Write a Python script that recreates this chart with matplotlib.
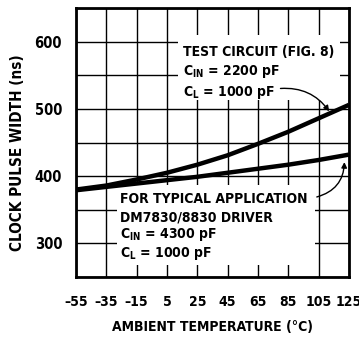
import numpy as np
import matplotlib.pyplot as plt
from matplotlib.patches import Rectangle

plt.rcParams['font.family'] = ['DejaVu Sans']
plt.rcParams['font.stretch'] = 'condensed'
plt.rcParams['font.weight'] = 'bold'
plt.rcParams['mathtext.fontset'] = 'custom'
plt.rcParams['mathtext.rm'] = 'DejaVu Sans:weight=bold:stretch=condensed'
plt.rcParams['mathtext.bf'] = 'DejaVu Sans:weight=bold:stretch=condensed'

# data
temp = [-55, -35, -15, 5, 25, 45, 65, 85, 105, 125]
test_circuit = [380, 386, 395, 405, 417, 431, 448, 466, 486, 506]
typical_app = [379, 384, 389, 394, 399, 405, 411, 417, 424, 432]

x_ticks = [-55, -35, -15, 5, 25, 45, 65, 85, 105, 125]
y_ticks = [300, 400, 500, 600]
y_grid = [250, 300, 350, 400, 450, 500, 550, 600, 650]

fig = plt.figure(figsize=(3.59, 3.40), dpi=100)
ax = fig.add_axes([76/359, 1 - 277/340, 273/359, 269/340])

ax.set_xlim(-55, 125)
ax.set_ylim(250, 650)

# grid
for xv in x_ticks:
    ax.axvline(xv, color='black', lw=1.0, zorder=1)
for yv in y_grid:
    ax.axhline(yv, color='black', lw=1.0, zorder=1)

# white areas behind the text blocks
ax.add_patch(Rectangle((12, 513), 107, 97, facecolor='white', edgecolor='none', zorder=2))
ax.add_patch(Rectangle((-28, 268), 130.5, 119, facecolor='white', edgecolor='none', zorder=2))

ax.plot(temp, test_circuit, color='black', lw=3.2, zorder=3, solid_capstyle='butt')
ax.plot(temp, typical_app, color='black', lw=3.2, zorder=3, solid_capstyle='butt')

for s in ax.spines.values():
    s.set_linewidth(2.0)
    s.set_zorder(5)

ax.set_xticks(x_ticks)
ax.set_xticklabels([str(v).replace('-', '\u2013') for v in x_ticks], fontsize=10, fontweight='bold')
ax.set_yticks(y_ticks)
ax.set_yticklabels([str(v) for v in y_ticks], fontsize=10.5, fontweight='bold')
ax.tick_params(axis='both', length=0)
ax.tick_params(axis='x', pad=13)
ax.tick_params(axis='y', pad=10)

fig.text(213/359, 1 - 327/340, 'AMBIENT TEMPERATURE (\u00b0C)', ha='center', va='center',
         fontsize=10, fontweight='bold')
fig.text(18/359, 1 - 153/340, 'CLOCK PULSE WIDTH (ns)', ha='center', va='center',
         rotation=90, fontsize=11, fontweight='bold')

tk = dict(fontsize=10, fontweight='bold', va='center', ha='left', zorder=4)
ax.text(15.5, 585, 'TEST CIRCUIT (FIG. 8)', **tk)
ax.text(15.5, 555, r'C$_{\rm IN}$ = 2200 pF', **tk)
ax.text(15.5, 525, r'C$_{\rm L}$ = 1000 pF', **tk)

ax.text(-26, 366, 'FOR TYPICAL APPLICATION', **tk)
ax.text(-26, 339, 'DM7830/8830 DRIVER', **tk)
ax.text(-26, 313, r'C$_{\rm IN}$ = 4300 pF', **tk)
ax.text(-26, 285, r'C$_{\rm L}$ = 1000 pF', **tk)

ax.annotate('', xy=(113, 493), xytext=(78, 530),
            arrowprops=dict(arrowstyle='-|>', color='black', lw=1.0,
                            mutation_scale=8, connectionstyle='arc3,rad=-0.3'), zorder=4)
ax.annotate('', xy=(122, 425), xytext=(102, 368),
            arrowprops=dict(arrowstyle='-|>', color='black', lw=1.0,
                            mutation_scale=8, connectionstyle='arc3,rad=0.4'), zorder=4)

fig.savefig('out.png', dpi=100)
